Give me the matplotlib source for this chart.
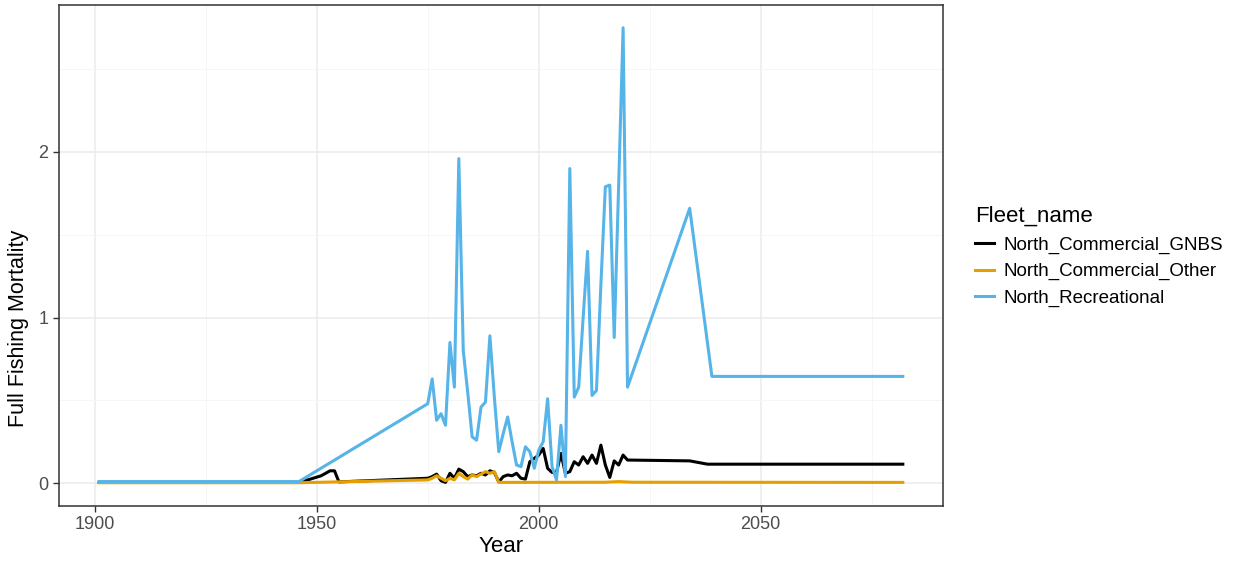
import numpy as np
import matplotlib.pyplot as plt
from matplotlib.ticker import MultipleLocator

plt.rcParams['font.family'] = ['Liberation Sans', 'DejaVu Sans']

fleets = ["North_Commercial_GNBS", "North_Commercial_Other", "North_Recreational"]
colors = ["#000000", "#E69F00", "#56B4E9"]

gnbs_years = [1901, 1946, 1947, 1951, 1953, 1954, 1955, 1975, 1976, 1977, 1978, 1979,
              1980, 1981, 1982, 1983, 1984, 1985, 1986, 1987, 1988, 1989, 1990, 1991,
              1992, 1993, 1994, 1995, 1996, 1997, 1998, 1999, 2000, 2001, 2002, 2003,
              2004, 2005, 2006, 2007, 2008, 2009, 2010, 2011, 2012, 2013, 2014, 2015,
              2016, 2017, 2018, 2019, 2020, 2034, 2038, 2082]
gnbs_f = [0.005, 0.005, 0.012, 0.045, 0.075, 0.075, 0.008, 0.03, 0.04, 0.055, 0.015, 0.005,
          0.06, 0.03, 0.085, 0.07, 0.04, 0.05, 0.045, 0.06, 0.05, 0.075, 0.065, 0.008,
          0.04, 0.05, 0.045, 0.06, 0.03, 0.025, 0.13, 0.15, 0.17, 0.21, 0.09, 0.065,
          0.065, 0.18, 0.06, 0.07, 0.13, 0.11, 0.16, 0.12, 0.17, 0.12, 0.23, 0.11,
          0.035, 0.135, 0.11, 0.17, 0.14, 0.135, 0.115, 0.115]

other_years = [1901, 1946, 1975, 1976, 1977, 1978, 1979, 1980, 1981, 1982, 1983, 1984,
               1985, 1986, 1987, 1988, 1989, 1990, 1991, 2015, 2018, 2021, 2082]
other_f = [0.003, 0.003, 0.02, 0.03, 0.045, 0.03, 0.015, 0.03, 0.02, 0.06, 0.04, 0.025,
           0.05, 0.04, 0.055, 0.07, 0.06, 0.07, 0.005, 0.006, 0.01, 0.006, 0.005]

rec_years = [1901, 1946, 1975, 1976, 1977, 1978, 1979, 1980, 1981, 1982, 1983, 1984,
             1985, 1986, 1987, 1988, 1989, 1990, 1991, 1992, 1993, 1994, 1995, 1996,
             1997, 1998, 1999, 2000, 2001, 2002, 2003, 2004, 2005, 2006, 2007, 2008,
             2009, 2010, 2011, 2012, 2013, 2014, 2015, 2016, 2017, 2018, 2019, 2020,
             2034, 2039, 2082]
rec_f = [0.01, 0.01, 0.48, 0.63, 0.38, 0.42, 0.35, 0.85, 0.58, 1.96, 0.80, 0.55,
         0.28, 0.26, 0.46, 0.49, 0.89, 0.52, 0.19, 0.30, 0.40, 0.25, 0.11, 0.10,
         0.22, 0.19, 0.09, 0.20, 0.25, 0.51, 0.10, 0.02, 0.35, 0.04, 1.90, 0.52,
         0.58, 1.00, 1.40, 0.53, 0.56, 1.20, 1.79, 1.80, 0.88, 1.80, 2.75, 0.58,
         1.66, 0.645, 0.645]

fig = plt.figure(figsize=(12.38, 5.65), dpi=100)
ax = fig.add_axes([59/1238, 1-506/565, (943-59)/1238, (506-5)/565])

series = [(gnbs_years, gnbs_f), (other_years, other_f), (rec_years, rec_f)]
handles = []
for (yr, f), name, col in zip(series, fleets, colors):
    h, = ax.plot(yr, f, color=col, lw=2.2, label=name)
    handles.append(h)

x0, x1 = 1901, 2082
y0, y1 = 0, 2.75
ax.set_xlim(x0 - 0.05*(x1-x0), x1 + 0.05*(x1-x0))
ax.set_ylim(y0 - 0.05*(y1-y0), y1 + 0.05*(y1-y0))

ax.xaxis.set_major_locator(MultipleLocator(50))
ax.xaxis.set_minor_locator(MultipleLocator(25))
ax.yaxis.set_major_locator(MultipleLocator(1))
ax.yaxis.set_minor_locator(MultipleLocator(0.5))
ax.grid(which='major', color='#EBEBEB', lw=1.1)
ax.grid(which='minor', color='#F5F5F5', lw=0.6)
ax.set_axisbelow(True)
for s in ax.spines.values():
    s.set_color('#333333')
    s.set_linewidth(1.1)
ax.tick_params(which='major', length=4, color='#333333', labelsize=13,
               labelcolor='#4D4D4D', width=1.0)
ax.tick_params(which='minor', length=0)
ax.set_xlabel("Year", fontsize=16, labelpad=2)
fig.text(19/1238, 1-328/565, "Full Fishing Mortality", rotation=90,
         fontsize=15.5, ha='center', va='center')

leg = fig.legend(handles, fleets, title="Fleet_name", loc='upper left',
                 bbox_to_anchor=(958/1238, 1-189/565), frameon=False,
                 fontsize=13.5, title_fontsize=16, handlelength=1.0,
                 handletextpad=0.55, labelspacing=0.5, alignment='left')

fig.savefig("out.png", dpi=100)
